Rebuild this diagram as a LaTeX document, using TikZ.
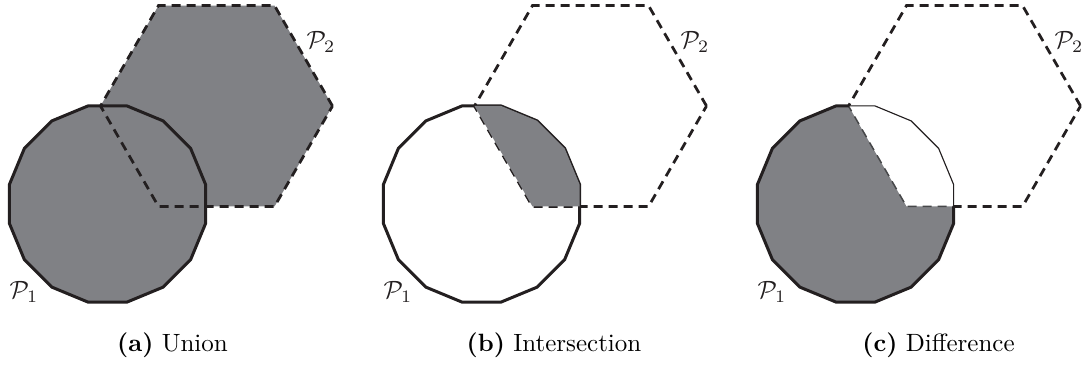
\documentclass[tikz,border=0pt]{standalone}
\definecolor{fillg}{RGB}{128,129,133}
\definecolor{ink}{RGB}{35,31,32}
\tikzset{
  polyline/.style={draw=ink, line width=1.2pt, line join=miter},
  hexline/.style={draw=ink, line width=1.1pt, dash pattern=on 3.6pt off 2.4pt},
  hexinner/.style={draw=fillg!55!black, line width=0.6pt, dash pattern=on 3.6pt off 2.4pt},
  thinline/.style={draw=ink, line width=0.45pt, line join=miter},
  region/.style={fill=fillg},
  lab/.style={inner sep=0pt, text=ink},
  captext/.style={anchor=base, inner sep=0pt, text=black},
}
\newcommand\circP{(205.58,184.49) -- (190.65,148.44) -- (163.06,120.85) -- (127.01,105.92) -- (87.99,105.92) -- (51.94,120.85) -- (24.35,148.44) -- (9.42,184.49) -- (9.42,223.51) -- (24.35,259.56) -- (51.94,287.15) -- (87.99,302.08) -- (127.01,302.08) -- (163.06,287.15) -- (190.65,259.56) -- (205.58,223.51) -- cycle}
\newcommand\hexP{(332.5,106) -- (274.5,5.54) -- (158.5,5.54) -- (100.5,106) -- (158.5,206.46) -- (274.5,206.46) -- cycle}
\begin{document}
\begin{tikzpicture}[x=0.4pt,y=-0.4pt]
\useasboundingbox (0,0) rectangle (1091,369);
% (a) Union
\begin{scope}
  \fill[region] \circP;
  \fill[region] \hexP;
  \draw[polyline] \circP;
  \draw[hexline] \hexP;
  \node[lab] (p1a) at (24,292) {$\mathcal{P}_1$};
  \node[lab] (p2a) at (321,42) {$\mathcal{P}_2$};
\end{scope}
% (b) Intersection
\begin{scope}[shift={(374,0)}]
  \draw[polyline] \circP;
  \draw[hexline] \hexP;
  \begin{scope}
    \clip \circP;
    \fill[region] \hexP;
  \end{scope}
  \node[lab] (p1b) at (24,292) {$\mathcal{P}_1$};
  \node[lab] (p2b) at (321,42) {$\mathcal{P}_2$};
\end{scope}
% (c) Difference
\begin{scope}[shift={(748,0)}]
  \begin{scope}[even odd rule]
    \clip (-20,-20) rectangle (360,330) \circP;
    \draw[hexline] \hexP;
  \end{scope}
  \begin{scope}
    \clip \circP;
    \fill[region, even odd rule] \circP \hexP;
    \draw[hexinner] \hexP;
  \end{scope}
  \draw[thinline] \circP;
  \begin{scope}[even odd rule]
    \clip (-20,-20) rectangle (360,330) \hexP;
    \draw[polyline] \circP;
  \end{scope}
  \node[lab] (p1c) at (24,292) {$\mathcal{P}_1$};
  \node[lab] (p2c) at (321,42) {$\mathcal{P}_2$};
\end{scope}
% captions
\node[captext] (capa) at (172.5,351) {\textbf{(a)} Union};
\node[captext] (capb) at (554,351) {\textbf{(b)} Intersection};
\node[captext] (capc) at (938.5,351) {\textbf{(c)} Difference};
\end{tikzpicture}
\end{document}
